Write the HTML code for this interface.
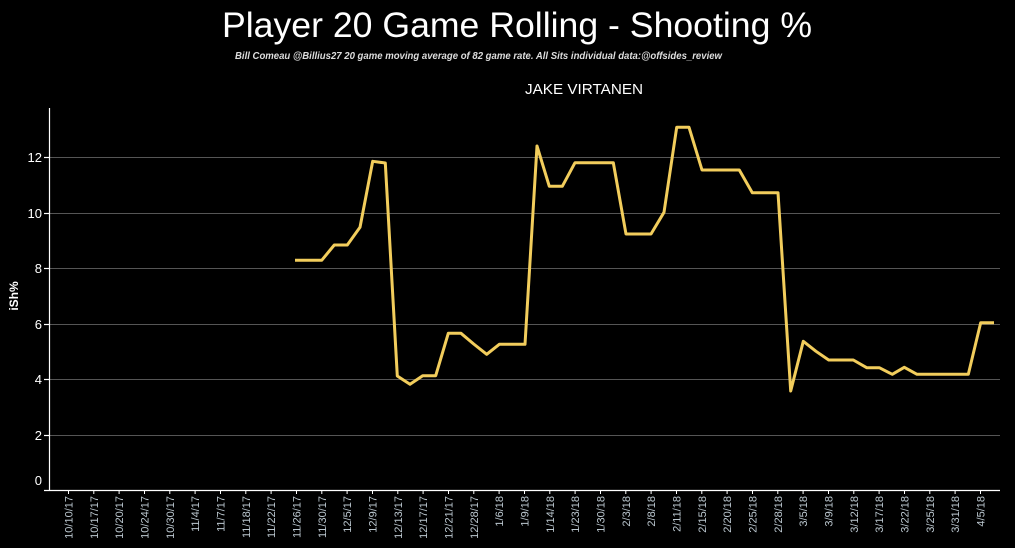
<!DOCTYPE html>
<html><head><meta charset="utf-8"><style>
html,body{margin:0;padding:0;background:#000;}
svg{display:block;}
text{font-family:"Liberation Sans",sans-serif;}
</style></head><body>
<svg width="1015" height="548" viewBox="0 0 1015 548" xmlns="http://www.w3.org/2000/svg">
<rect width="1015" height="548" fill="#000"/>
<text x="222" y="37" font-size="35" fill="#fff" textLength="590" lengthAdjust="spacingAndGlyphs">Player 20 Game Rolling - Shooting %</text>
<text x="235" y="59" font-size="10" font-style="italic" font-weight="bold" fill="#ddd" textLength="487" lengthAdjust="spacingAndGlyphs">Bill Comeau @Billius27 20 game moving average of 82 game rate.  All Sits individual data:@offsides_review</text>
<text x="525" y="94" font-size="15" fill="#fff" textLength="118" lengthAdjust="spacingAndGlyphs">JAKE VIRTANEN</text>
<g stroke="#555" stroke-width="1">
<line x1="49" x2="1000" y1="157.5" y2="157.5"/>
<line x1="49" x2="1000" y1="213.5" y2="213.5"/>
<line x1="49" x2="1000" y1="268.5" y2="268.5"/>
<line x1="49" x2="1000" y1="324.5" y2="324.5"/>
<line x1="49" x2="1000" y1="379.5" y2="379.5"/>
<line x1="49" x2="1000" y1="435.5" y2="435.5"/>
</g>
<g stroke="#fff" stroke-width="1.2">
<line x1="49.5" x2="49.5" y1="108" y2="490"/>
<line x1="44" x2="1000" y1="490.5" y2="490.5"/>
<line x1="44" x2="49" y1="157.5" y2="157.5"/>
<line x1="44" x2="49" y1="213.5" y2="213.5"/>
<line x1="44" x2="49" y1="268.5" y2="268.5"/>
<line x1="44" x2="49" y1="324.5" y2="324.5"/>
<line x1="44" x2="49" y1="379.5" y2="379.5"/>
<line x1="44" x2="49" y1="435.5" y2="435.5"/>
</g>
<g font-size="13" fill="#fff" text-anchor="end">
<text x="42" y="162">12</text><text x="42" y="218">10</text><text x="42" y="273">8</text>
<text x="42" y="329">6</text><text x="42" y="384">4</text><text x="42" y="440">2</text><text x="42" y="485">0</text>
</g>
<text transform="translate(18,296) rotate(-90)" font-size="12" font-weight="bold" fill="#fff" text-anchor="middle">iSh%</text>
<g id="xt" font-size="11" fill="#bcc8d0" text-anchor="end"></g>
<polyline fill="none" stroke="#f2cd5c" stroke-width="3" stroke-linejoin="round" points="295,260.3 307.7,260.3 321.7,260.3 334.3,245 347.3,245 360,227.3 372.7,161.3 385.3,163 397.3,376 410,384.3 422.7,375.7 435.7,375.7 448.3,333.3 461,333.3 473.7,344 486.7,354.3 499.3,344.3 512,344.3 525,344.3 537,146 549.3,186.3 562.3,186.3 575,162.7 588,162.7 600,162.7 613.3,162.7 626,234 638.5,234 651,234 664,212.3 676.7,127.3 689,127.3 702,170 714.5,170 727,170 739.3,170 752.3,192.7 765,192.7 778,192.7 790.7,391 803.3,341.3 816,351.3 828.7,360 841,360 853.3,360 866.7,367.7 879.3,367.7 892.3,374.3 904.3,367.3 917,374.3 930,374.3 943,374.3 955.5,374.3 968.3,374.3 980.7,322.7 994,322.7"/>
<g stroke="#fff" stroke-width="1">
<path id="tk" d=""/>
</g>
<g font-size="11" fill="#bcc8d0">
<text transform="translate(72.5,496) rotate(-90)" text-anchor="end">10/10/17</text>
<text transform="translate(97.8,496) rotate(-90)" text-anchor="end">10/17/17</text>
<text transform="translate(123.1,496) rotate(-90)" text-anchor="end">10/20/17</text>
<text transform="translate(148.5,496) rotate(-90)" text-anchor="end">10/24/17</text>
<text transform="translate(173.8,496) rotate(-90)" text-anchor="end">10/30/17</text>
<text transform="translate(199.1,496) rotate(-90)" text-anchor="end">11/4/17</text>
<text transform="translate(224.5,496) rotate(-90)" text-anchor="end">11/7/17</text>
<text transform="translate(249.8,496) rotate(-90)" text-anchor="end">11/18/17</text>
<text transform="translate(275.1,496) rotate(-90)" text-anchor="end">11/22/17</text>
<text transform="translate(300.5,496) rotate(-90)" text-anchor="end">11/26/17</text>
<text transform="translate(325.8,496) rotate(-90)" text-anchor="end">11/30/17</text>
<text transform="translate(351.1,496) rotate(-90)" text-anchor="end">12/5/17</text>
<text transform="translate(376.5,496) rotate(-90)" text-anchor="end">12/9/17</text>
<text transform="translate(401.8,496) rotate(-90)" text-anchor="end">12/13/17</text>
<text transform="translate(427.1,496) rotate(-90)" text-anchor="end">12/17/17</text>
<text transform="translate(452.5,496) rotate(-90)" text-anchor="end">12/21/17</text>
<text transform="translate(477.8,496) rotate(-90)" text-anchor="end">12/28/17</text>
<text transform="translate(503.1,496) rotate(-90)" text-anchor="end">1/6/18</text>
<text transform="translate(528.5,496) rotate(-90)" text-anchor="end">1/9/18</text>
<text transform="translate(553.8,496) rotate(-90)" text-anchor="end">1/14/18</text>
<text transform="translate(579.1,496) rotate(-90)" text-anchor="end">1/23/18</text>
<text transform="translate(604.5,496) rotate(-90)" text-anchor="end">1/30/18</text>
<text transform="translate(629.8,496) rotate(-90)" text-anchor="end">2/3/18</text>
<text transform="translate(655.1,496) rotate(-90)" text-anchor="end">2/8/18</text>
<text transform="translate(680.5,496) rotate(-90)" text-anchor="end">2/11/18</text>
<text transform="translate(705.8,496) rotate(-90)" text-anchor="end">2/15/18</text>
<text transform="translate(731.1,496) rotate(-90)" text-anchor="end">2/20/18</text>
<text transform="translate(756.5,496) rotate(-90)" text-anchor="end">2/25/18</text>
<text transform="translate(781.8,496) rotate(-90)" text-anchor="end">2/28/18</text>
<text transform="translate(807.1,496) rotate(-90)" text-anchor="end">3/5/18</text>
<text transform="translate(832.5,496) rotate(-90)" text-anchor="end">3/9/18</text>
<text transform="translate(857.8,496) rotate(-90)" text-anchor="end">3/12/18</text>
<text transform="translate(883.1,496) rotate(-90)" text-anchor="end">3/17/18</text>
<text transform="translate(908.5,496) rotate(-90)" text-anchor="end">3/22/18</text>
<text transform="translate(933.8,496) rotate(-90)" text-anchor="end">3/25/18</text>
<text transform="translate(959.1,496) rotate(-90)" text-anchor="end">3/31/18</text>
<text transform="translate(984.5,496) rotate(-90)" text-anchor="end">4/5/18</text>
</g>
<g stroke="#fff" stroke-width="1">
<path d="M68.5 490v4M93.8 490v4M119.1 490v4M144.5 490v4M169.8 490v4M195.1 490v4M220.5 490v4M245.8 490v4M271.1 490v4M296.5 490v4M321.8 490v4M347.1 490v4M372.5 490v4M397.8 490v4M423.1 490v4M448.5 490v4M473.8 490v4M499.1 490v4M524.5 490v4M549.8 490v4M575.1 490v4M600.5 490v4M625.8 490v4M651.1 490v4M676.5 490v4M701.8 490v4M727.1 490v4M752.5 490v4M777.8 490v4M803.1 490v4M828.5 490v4M853.8 490v4M879.1 490v4M904.5 490v4M929.8 490v4M955.1 490v4M980.5 490v4"/>
</g>
</svg>
</body></html>
